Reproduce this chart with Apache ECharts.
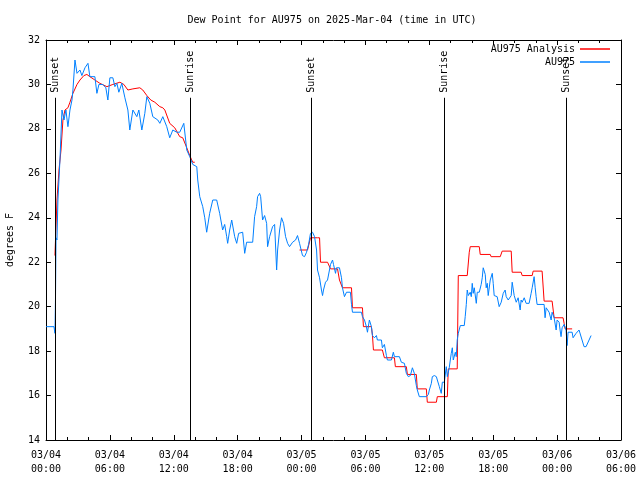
<!DOCTYPE html>
<html>
<head>
<meta charset="utf-8">
<script src="https://cdn.jsdelivr.net/npm/echarts@6/dist/echarts.min.js"></script>
<style>
html,body{margin:0;padding:0;background:#fff;}
#chart{width:640px;height:480px;}
</style>
</head>
<body>
<div id="chart"></div>
<script>
// ---- Data (hours since 2025-03-04 00:00 UTC, dew point in degrees F) ----
const titleText = 'Dew Point for AU975 on 2025-Mar-04 (time in UTC)';
const yTicks = [14, 16, 18, 20, 22, 24, 26, 28, 30, 32];
const xRangeHours = [0, 54];

const obsHours = [
  0,0.75,0.84,0.89,0.94,1.03,1.12,1.31,1.5,1.69,
  1.87,2.06,2.25,2.44,2.53,2.72,2.91,3.19,3.37,3.66,
  3.94,4.12,4.59,4.78,4.97,5.34,5.62,5.81,6.0,6.28,
  6.47,6.66,6.84,7.12,7.41,7.69,7.87,8.16,8.53,8.72,
  9.0,9.28,9.47,9.75,10.03,10.5,10.69,10.97,11.34,11.62,
  11.91,12.28,12.56,12.94,13.22,13.5,13.78,14.16,14.25,14.44,
  14.72,14.91,15.09,15.37,15.66,16.03,16.31,16.59,16.78,16.97,
  17.06,17.25,17.44,17.72,17.91,18.09,18.47,18.66,18.84,19.41,
  19.59,19.78,19.87,20.06,20.16,20.34,20.53,20.72,20.81,21.0,
  21.28,21.47,21.66,21.75,21.94,22.12,22.31,22.5,22.69,22.87,
  23.16,23.44,23.62,23.81,24.09,24.28,24.47,24.66,24.84,25.03,
  25.22,25.41,25.5,25.69,25.87,25.97,26.06,26.25,26.44,26.72,
  26.91,27.0,27.19,27.28,27.56,27.75,27.84,28.03,28.22,28.59,
  28.69,28.78,29.62,29.72,29.91,30.09,30.19,30.37,30.56,30.66,
  30.84,31.03,31.12,31.5,31.59,31.78,31.97,32.06,32.44,32.62,
  32.72,33.19,33.37,33.66,33.84,34.03,34.22,34.41,34.59,34.78,
  34.87,35.06,35.72,35.91,36.0,36.19,36.28,36.47,36.66,36.75,
  36.94,37.12,37.22,37.41,37.59,37.69,37.87,37.97,38.06,38.16,
  38.25,38.44,38.53,38.62,38.72,38.91,39.28,39.37,39.47,39.56,
  39.66,39.84,39.94,40.03,40.12,40.22,40.41,40.5,40.69,40.87,
  40.97,41.06,41.25,41.34,41.44,41.53,41.72,41.91,42.0,42.09,
  42.37,42.56,42.75,42.94,43.12,43.22,43.41,43.59,43.69,43.78,
  43.97,44.06,44.16,44.34,44.53,44.62,44.72,44.91,45.09,45.37,
  45.56,45.66,45.84,45.94,46.03,46.12,46.78,46.87,46.97,47.06,
  47.25,47.44,47.53,47.72,47.91,48.0,48.19,48.28,48.37,48.47,
  48.66,48.84,48.94,49.03,49.41,49.5,49.78,50.06,50.53,50.72,
  51.19
];
const obsDew = [
  19.1,19.1,18.8,20.3,23.1,23.0,24.8,26.6,28.85,28.4,
  28.85,28.1,28.85,29.3,29.75,31.1,30.5,30.65,30.4,30.75,
  30.95,30.35,30.35,29.6,30.0,30.0,29.85,29.3,30.3,30.3,
  29.9,30.05,29.65,30.05,29.4,28.85,27.95,28.85,28.55,28.85,
  27.95,28.7,29.45,29.15,28.55,28.4,28.25,28.55,28.1,27.6,
  27.95,27.85,27.85,28.25,27.05,26.75,26.4,26.3,25.7,24.95,
  24.5,24.0,23.35,24.2,24.8,24.8,24.2,23.45,23.7,23.15,
  22.85,23.45,23.9,23.15,22.85,23.3,23.35,22.4,22.9,22.9,
  24.05,24.5,24.95,25.1,24.95,23.9,24.1,23.75,22.7,23.15,
  23.6,23.7,21.65,22.55,23.45,24.0,23.75,23.15,22.85,22.7,
  22.9,23.0,23.2,22.85,22.3,22.25,22.45,22.8,23.3,23.35,
  23.15,22.55,21.65,21.3,20.75,20.5,20.75,21.1,21.2,21.9,
  22.1,21.9,21.5,21.75,21.75,21.3,20.85,20.45,20.65,20.65,
  20.1,19.75,19.75,19.55,19.4,19.1,18.85,19.4,19.1,18.7,
  18.6,18.7,18.5,18.5,18.15,18.3,17.8,17.6,17.6,17.95,
  17.75,17.75,17.5,17.45,17.0,16.85,16.9,17.25,17.0,16.45,
  16.25,15.95,15.95,16.05,16.25,16.55,16.85,16.9,16.85,16.7,
  16.4,16.1,16.6,16.6,17.3,16.85,17.25,17.6,17.9,18.15,
  17.6,17.95,17.75,18.5,18.8,19.15,19.15,19.55,20.1,20.75,
  20.5,20.65,20.45,21.05,20.6,20.85,20.15,20.65,20.65,21.0,
  21.3,21.75,21.45,20.85,21.05,20.5,21.2,21.5,21.05,20.5,
  20.45,20.0,20.2,20.6,20.75,20.45,20.3,20.3,20.5,21.1,
  20.5,20.45,20.2,20.4,19.85,20.3,20.2,20.4,20.15,20.15,
  20.6,20.85,21.35,20.85,20.45,20.1,20.1,19.5,19.95,20.0,
  19.75,19.4,19.75,19.5,18.95,19.4,19.3,18.95,18.65,19.05,
  19.2,18.95,18.25,18.85,18.85,18.6,18.8,18.95,18.2,18.2,
  18.7
];

const anaHours = [
  0.84,1.03,1.22,1.41,1.59,1.78,2.06,2.25,2.53,2.91,
  3.19,3.56,3.84,4.12,4.59,5.06,5.72,6.28,6.94,7.31,
  7.69,8.16,8.81,9.09,9.47,9.84,10.22,10.69,10.97,11.16,
  11.62,12.09,12.56,12.84,13.22,13.5,13.78,13.97,
  19,
  23.81,24.56,24.84,25.5,25.69,25.78,26.44,26.72,27.38,27.56,
  27.84,28.69,28.78,29.72,29.81,30.56,30.66,30.75,31.59,31.78,
  32.72,32.81,33.84,33.94,34.78,34.87,35.72,35.81,36.66,36.75,
  37.69,37.78,38.62,38.72,39.56,39.75,39.84,40.69,40.78,41.72,
  41.8,42.66,42.84,43.69,43.78,44.62,44.72,45.66,45.75,46.59,
  46.78,47.53,47.72,48.56,48.66,48.75,49.41
];
const anaDew = [
  22.3,24.8,26.15,27.05,28.4,28.85,28.95,29.2,29.6,30.0,
  30.2,30.4,30.45,30.35,30.2,30.05,29.9,30.0,30.1,30.0,
  29.75,29.8,29.85,29.75,29.5,29.3,29.2,29.0,28.95,28.85,
  28.25,28.05,27.65,27.6,27.15,26.8,26.5,26.5,
  null,
  22.55,22.55,23.1,23.1,23.1,22.0,22.0,21.7,21.7,21.2,
  20.85,20.85,19.95,19.95,19.1,19.1,18.7,18.05,18.05,17.7,
  17.7,17.3,17.3,16.95,16.95,16.3,16.3,15.7,15.7,15.95,
  15.95,17.2,17.2,21.4,21.4,22.45,22.7,22.7,22.35,22.35,
  22.25,22.25,22.5,22.5,21.55,21.55,21.4,21.4,21.6,21.6,
  20.25,20.25,19.5,19.5,19.25,19.0,19.0
];

const sunHours = [0.84, 13.5, 24.84, 37.41, 48.84];
const sunLabels = ['Sunset', 'Sunrise', 'Sunset', 'Sunrise', 'Sunset'];
const sunLineTop = 29.4;

// ---- Chart ----
const FONT = '"DejaVu Sans Mono", "Liberation Mono", monospace';
const baseUTC = Date.UTC(2025, 2, 4, 0, 0);
function pad(n) { return (n < 10 ? '0' : '') + n; }
function fmtHour(h) {
  const d = new Date(baseUTC + h * 3600000);
  return pad(d.getUTCMonth() + 1) + '/' + pad(d.getUTCDate()) + '\n' +
         pad(d.getUTCHours()) + ':' + pad(d.getUTCMinutes());
}
const obsData = obsHours.map((h, i) => [h, obsDew[i]]);
const anaData = anaHours.map((h, i) => [h, anaDew[i]]);
const sunData = sunHours.map(h => [h, sunLineTop]);

const chart = echarts.init(document.getElementById('chart'), null, {renderer: 'canvas'});

const xCommon = {
  type: 'value', min: xRangeHours[0], max: xRangeHours[1], interval: 6,
  axisLine: {show: true, onZero: false, lineStyle: {color: '#000', width: 1}},
  axisTick: {show: true, inside: true, length: 5, lineStyle: {color: '#000'}},
  minorTick: {show: true, splitNumber: 3, length: 3, lineStyle: {color: '#000'}},
  splitLine: {show: false}
};
const yCommon = {
  type: 'value', min: yTicks[0], max: yTicks[yTicks.length - 1], interval: 2,
  axisLine: {show: true, onZero: false, lineStyle: {color: '#000', width: 1}},
  axisTick: {show: true, inside: true, length: 5, lineStyle: {color: '#000'}},
  splitLine: {show: false}
};

chart.setOption({
  animation: false,
  backgroundColor: '#fff',
  title: {
    text: titleText, left: 327, top: 10, textAlign: 'center',
    textStyle: {fontFamily: FONT, fontSize: 10, fontWeight: 'normal', color: '#000'}
  },
  legend: [
    {data: [{name: 'AU975 Analysis', icon: 'rect'}], orient: 'vertical', align: 'right',
     right: 25, top: 39, itemWidth: 30, itemHeight: 1.5,
     textStyle: {fontFamily: FONT, fontSize: 10, color: '#000'}, selectedMode: false},
    {data: [{name: 'AU975', icon: 'rect'}], orient: 'vertical', align: 'right',
     right: 25, top: 52, itemWidth: 30, itemHeight: 1.5,
     textStyle: {fontFamily: FONT, fontSize: 10, color: '#000'}, selectedMode: false}
  ],
  grid: {left: 46, right: 19, top: 40, bottom: 40, containLabel: false, outerBoundsMode: 'none'},
  xAxis: [
    Object.assign({}, xCommon, {
      position: 'bottom',
      axisLabel: {show: true, margin: 8, fontFamily: FONT, fontSize: 10, color: '#000',
                  lineHeight: 14, formatter: v => fmtHour(v)}
    }),
    Object.assign({}, xCommon, {position: 'top', axisLabel: {show: false}})
  ],
  yAxis: [
    Object.assign({}, yCommon, {
      position: 'left',
      name: 'degrees F', nameLocation: 'middle', nameGap: 31, nameRotate: 90,
      nameTextStyle: {fontFamily: FONT, fontSize: 10, color: '#000'},
      axisLabel: {show: true, margin: 6, fontFamily: FONT, fontSize: 10, color: '#000'}
    }),
    Object.assign({}, yCommon, {position: 'right', axisLabel: {show: false}})
  ],
  series: [
    {
      name: 'AU975 Analysis', type: 'line', data: anaData, xAxisIndex: 0, yAxisIndex: 0,
      showSymbol: false, symbol: 'none', connectNulls: false,
      lineStyle: {color: '#ff0000', width: 1}, itemStyle: {color: '#ff0000'}, z: 2
    },
    {
      name: 'AU975', type: 'line', data: obsData, xAxisIndex: 0, yAxisIndex: 0,
      showSymbol: false, symbol: 'none',
      lineStyle: {color: '#0080ff', width: 1}, itemStyle: {color: '#0080ff'}, z: 3
    },
    {
      name: 'sun', type: 'custom', data: sunData, xAxisIndex: 0, yAxisIndex: 0, z: 4,
      clip: false, silent: true,
      renderItem: function (params, api) {
        const t = api.value(0);
        const p0 = api.coord([t, yTicks[0]]);
        const p1 = api.coord([t, api.value(1)]);
        const x = Math.round(p0[0]) + 0.5;
        return {
          type: 'group',
          children: [
            {type: 'line', shape: {x1: x, y1: p0[1], x2: x, y2: p1[1]},
             style: {stroke: '#000', lineWidth: 1}},
            {type: 'text', x: x, y: p1[1] - 5, rotation: Math.PI / 2,
             style: {text: sunLabels[params.dataIndex], align: 'left', verticalAlign: 'middle',
                     font: '10px ' + FONT, fill: '#000'}}
          ]
        };
      }
    }
  ]
});
</script>
</body>
</html>
